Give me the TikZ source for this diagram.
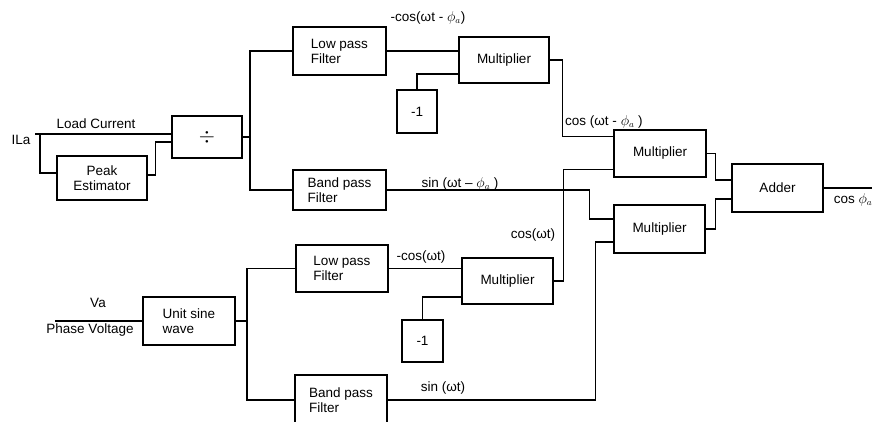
\documentclass[tikz,border=0pt]{standalone}
\usepackage{fontspec}
\setmainfont{Liberation Sans}
\begin{document}
\begin{tikzpicture}[x=1pt,y=-1pt,
  every node/.style={font=\fontsize{13.5}{15}\selectfont, inner sep=1pt},
  blk/.style={draw, line width=1.35pt, inner sep=2pt},
  wire/.style={line width=1.35pt},
  lbl/.style={inner sep=0pt}]
\useasboundingbox (0,0) rectangle (872,421);
\clip (0,0) rectangle (872,421);
% blocks
\node[blk, minimum width=90pt, minimum height=44pt, align=center] (pe) at (102,178) {Peak\\Estimator};
\node[blk, minimum width=70pt, minimum height=42pt, font=\fontsize{20}{20}\selectfont] (div) at (207,137) {$\div$};
\node[blk, minimum width=93pt, minimum height=48pt, align=left] (lpf1) at (339.5,51) {Low pass\\Filter};
\node[blk, minimum width=90pt, minimum height=46pt] (mul1) at (504,60) {Multiplier};
\node[blk, minimum width=40pt, minimum height=43pt] (neg1) at (417,111.5) {-1};
\node[blk, minimum width=93pt, minimum height=40pt, align=left] (bpf1) at (339.5,190) {Band pass\\Filter};
\node[blk, minimum width=92pt, minimum height=47pt] (mul2) at (660,153.5) {Multiplier};
\node[blk, minimum width=91pt, minimum height=48pt] (mul3) at (659.5,229) {Multiplier};
\node[blk, minimum width=91pt, minimum height=48pt] (adder) at (777.5,188) {Adder};
\node[blk, minimum width=92pt, minimum height=48pt, align=left] (usw) at (189,321) {Unit sine\\wave};
\node[blk, minimum width=92pt, minimum height=47pt, align=left] (lpf2) at (342,268.5) {Low pass\\Filter};
\node[blk, minimum width=91pt, minimum height=46pt] (mul4) at (507.5,281) {Multiplier};
\node[blk, minimum width=41pt, minimum height=42pt] (neg2) at (422.5,341) {-1};
\node[blk, minimum width=92pt, minimum height=50pt, align=left] (bpf2) at (341,400) {Band pass\\Filter};
% coordinates
\coordinate (ilaS) at (35,134);
\coordinate (br1) at (40,134);
\coordinate (split1) at (250,137);
\coordinate (split2) at (247,321);
\coordinate (vaS) at (55,321);
\coordinate (outE) at (872,188);
% wires
\draw[wire] (ilaS) -- (ilaS -| div.west);
\draw[wire] (br1) |- ([yshift=5pt]pe.west);
\draw[wire] ([yshift=3pt]pe.east) -- ++(8,0) |- ([yshift=-5pt]div.west);
\draw[wire] (div.east) -- (split1);
\draw[wire] (lpf1.west) -| (split1) |- (bpf1.west);
\draw[wire] (lpf1.east) -- (lpf1.east -| mul1.west);
\draw[wire] (neg1.north) |- ([yshift=-14pt]mul1.west);
\draw[wire] (mul1.east) -- ++(13,0) |- ([yshift=17pt]mul2.west);
\draw[wire] (mul4.east) -- ++(10,0) |- ([yshift=-16pt]mul2.west);
\draw[wire] (bpf1.east) -- ++(203,0) |- ([yshift=10pt]mul3.west);
\draw[wire] (bpf2.east) -- ++(208,0) |- ([yshift=-13pt]mul3.west);
\draw[wire] (mul2.east) -- ++(9,0) |- ([yshift=8pt]adder.west);
\draw[wire] (mul3.east) -- ++(10,0) |- ([yshift=-11pt]adder.west);
\draw[wire] (adder.east) -- (outE);
\draw[wire] (vaS) -- (usw.west);
\draw[wire] (usw.east) -- (split2);
\draw[wire] (lpf2.west) -| (split2) |- (bpf2.west);
\draw[wire] (lpf2.east) -- (lpf2.east -| mul4.west);
\draw[wire] (neg2.north) |- ([yshift=-16pt]mul4.west);
% labels
\node[lbl] (lIla) at (21,140) {ILa};
\node[lbl] (lLoad) at (96,124) {Load Current};
\node[lbl] (l1) at (428,18) {-cos(ωt - $\phi_a$)};
\node[lbl, anchor=west] (l2) at (565,122) {cos (ωt - $\phi_a$ )};
\node[lbl] (l3) at (460,184) {sin (ωt -- $\phi_a$ )};
\node[lbl] (l4) at (533,235) {cos(ωt)};
\node[lbl] (l5) at (853,200) {cos $\phi_a$};
\node[lbl] (l6) at (98,303) {Va};
\node[lbl] (l7) at (90,330) {Phase Voltage};
\node[lbl] (l8) at (421,257) {-cos(ωt)};
\node[lbl] (l9) at (443,388) {sin (ωt)};
\end{tikzpicture}
\end{document}
